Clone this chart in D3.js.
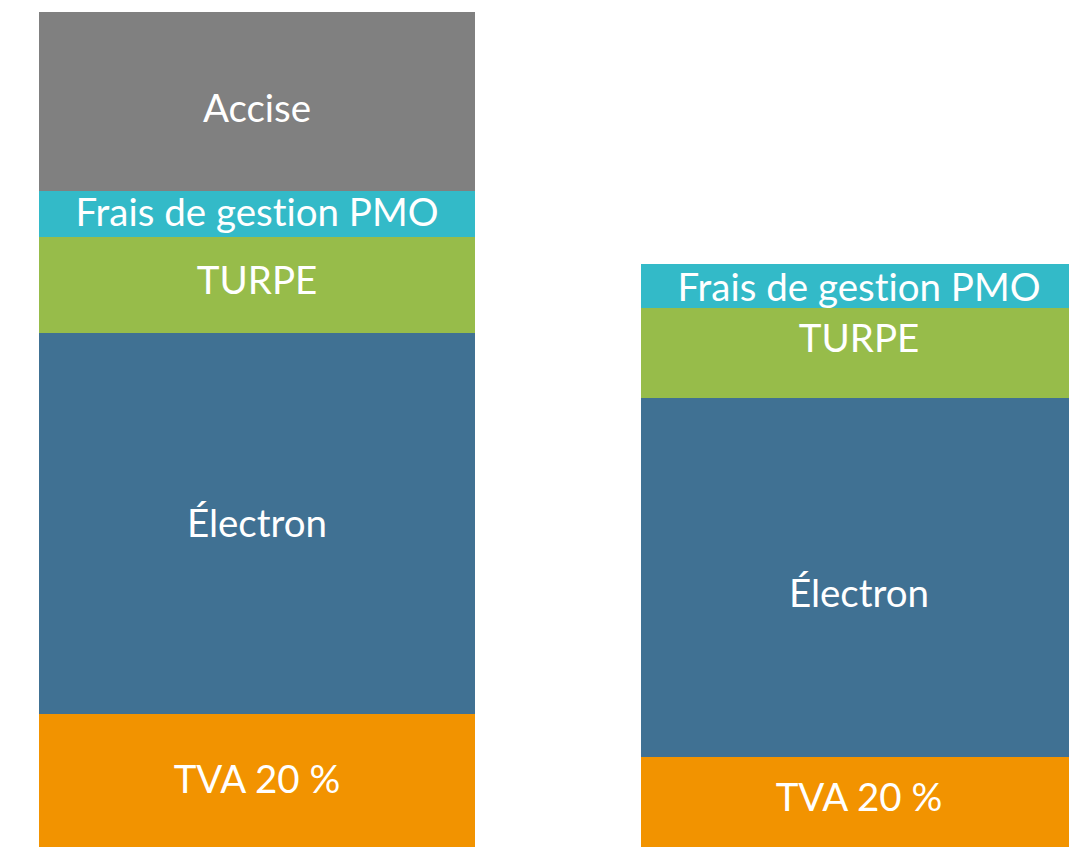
<!DOCTYPE html>
<html>
<head>
<meta charset="utf-8">
<script src="https://cdn.jsdelivr.net/npm/d3@7"></script>
<style>
  body { margin: 0; background: #fff; overflow: hidden; }
  text { font-family: Lato, "Open Sans", sans-serif; fill: #fff; font-variant-ligatures: none; }
</style>
</head>
<body>
<script>
let w = 1069;
let h = 847;

// two bars, bottom to top
let bars = ["avant", "apres"];
let segments = ["TVA 20 %", "Électron", "TURPE", "Frais de gestion PMO", "Accise"];
let avantValues = [133, 381, 96, 46, 179];
let apresValues = [90, 359, 90, 44, 0];

let colors = ["#f29300", "#407193", "#97bc4a", "#33bac8", "#808080"];
// manual nudges of the text boxes (px), like the original slide
let labelNudge = {
    avant: [-1, 0, -5, -2, 7],
    apres: [-5, 16, -15, 1, 0]
};

let svg = d3.select("body")
            .append("svg")
            .attr("width", w)
            .attr("height", h);

let xScale = d3.scaleBand()
               .domain(bars)
               .range([39, 1077])
               .paddingInner(166 / 602)
               .paddingOuter(0);

let yScale = d3.scaleLinear()
               .domain([0, 835])
               .range([h, 12]);

const stackOf = (values) => {
    let acc = 0;
    return values.map((v, i) => {
        let d = {name: segments[i], y0: acc, y1: acc + v, i: i};
        acc += v;
        return d;
    }).filter(d => d.y1 > d.y0);
};

let dataset = {avant: stackOf(avantValues), apres: stackOf(apresValues)};

bars.forEach(b => {
    let g = svg.append("g").attr("class", "bar-" + b);

    g.selectAll("rect")
     .data(dataset[b])
     .enter()
     .append("rect")
     .attr("x", xScale(b))
     .attr("width", xScale.bandwidth())
     .attr("y", d => yScale(d.y1))
     .attr("height", d => yScale(d.y0) - yScale(d.y1))
     .attr("fill", d => colors[d.i]);

    g.selectAll("text")
     .data(dataset[b])
     .enter()
     .append("text")
     .attr("x", xScale(b) + xScale.bandwidth() / 2)
     .attr("y", d => (yScale(d.y0) + yScale(d.y1)) / 2 + labelNudge[b][d.i] + 13.5)
     .attr("text-anchor", "middle")
     .attr("font-size", 38.5)
     .text(d => d.name);
});
</script>
</body>
</html>
